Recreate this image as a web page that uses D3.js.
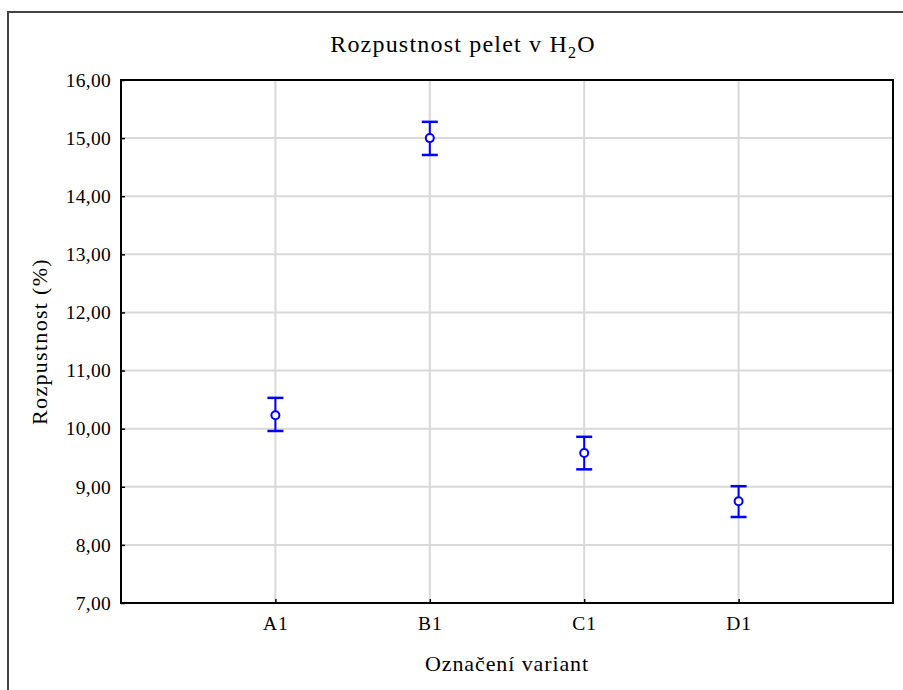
<!DOCTYPE html>
<html>
<head>
<meta charset="utf-8">
<script src="https://cdn.jsdelivr.net/npm/d3@7"></script>
<style>
  body { margin: 0; background: #fff; }
  text { font-family: "Liberation Serif", "Times New Roman", serif; fill: #000; }
</style>
</head>
<body>
<svg id="chart" width="903" height="690"></svg>
<script>
// data
const variants = ['A1', 'B1', 'C1', 'D1'];
const means = [10.23, 15.00, 9.58, 8.75];
const upper = [10.53, 15.28, 9.86, 9.01];
const lower = [9.96, 14.71, 9.30, 8.48];
const yTicks = [7, 8, 9, 10, 11, 12, 13, 14, 15, 16];

const width = 903, height = 690;
const margin = {top: 80, right: 10, bottom: 87, left: 121};

const svg = d3.select('#chart');

// outer frame
svg.append('rect')
  .attr('x', 8).attr('y', 12)
  .attr('width', 920).attr('height', 700)
  .attr('fill', 'none')
  .attr('stroke', '#444')
  .attr('stroke-width', 2);

const x = d3.scaleLinear().domain([0, 5]).range([margin.left, width - margin.right]);
const y = d3.scaleLinear().domain([7, 16]).range([height - margin.bottom, margin.top]);

const fmt = d => d3.format('.2f')(d).replace('.', ',');

// gridlines
const g = svg.append('g');
g.selectAll('.hgrid').data(yTicks.slice(1, -1)).enter().append('line')
  .attr('x1', x(0)).attr('x2', x(5))
  .attr('y1', d => y(d)).attr('y2', d => y(d))
  .attr('stroke', '#d9d9d9').attr('stroke-width', 2);
g.selectAll('.vgrid').data(variants).enter().append('line')
  .attr('x1', (d, i) => x(i + 1)).attr('x2', (d, i) => x(i + 1))
  .attr('y1', y(7)).attr('y2', y(16))
  .attr('stroke', '#d9d9d9').attr('stroke-width', 2);

// axes
const yAxis = d3.axisLeft(y).tickValues(yTicks).tickFormat(fmt).tickSizeInner(-4).tickSizeOuter(0).tickPadding(10);
svg.append('g').attr('transform', `translate(${x(0)},0)`).call(yAxis)
  .call(a => a.select('.domain').remove())
  .call(a => a.selectAll('text').attr('font-size', 19.5).attr('letter-spacing', 0.3))
  .call(a => a.selectAll('line').attr('stroke', '#000').attr('stroke-width', 1.5));

const xAxis = d3.axisBottom(x).tickValues([1, 2, 3, 4]).tickFormat(d => variants[d - 1]).tickSizeInner(-4).tickSizeOuter(0).tickPadding(13);
svg.append('g').attr('transform', `translate(0,${y(7)})`).call(xAxis)
  .call(a => a.select('.domain').remove())
  .call(a => a.selectAll('text').attr('font-size', 19.5).attr('letter-spacing', 1))
  .call(a => a.selectAll('line').attr('stroke', '#000').attr('stroke-width', 1.5));

// plot box
svg.append('rect')
  .attr('x', x(0)).attr('y', y(16))
  .attr('width', x(5) - x(0)).attr('height', y(7) - y(16))
  .attr('fill', 'none').attr('stroke', '#000').attr('stroke-width', 2);

// error bars
const pts = svg.append('g').selectAll('g').data(variants).enter().append('g');
pts.append('line')
  .attr('x1', (d, i) => x(i + 1)).attr('x2', (d, i) => x(i + 1))
  .attr('y1', (d, i) => y(upper[i])).attr('y2', (d, i) => y(lower[i]))
  .attr('stroke', '#0000ff').attr('stroke-width', 2);
[upper, lower].forEach(arr => {
  pts.append('line')
    .attr('x1', (d, i) => x(i + 1) - 8).attr('x2', (d, i) => x(i + 1) + 8)
    .attr('y1', (d, i) => y(arr[i])).attr('y2', (d, i) => y(arr[i]))
    .attr('stroke', '#0000ff').attr('stroke-width', 2.5);
});
pts.append('circle')
  .attr('cx', (d, i) => x(i + 1)).attr('cy', (d, i) => y(means[i]))
  .attr('r', 4)
  .attr('fill', '#fff').attr('stroke', '#0000ff').attr('stroke-width', 2);

// title
const title = svg.append('text')
  .attr('x', 463).attr('y', 52)
  .attr('text-anchor', 'middle')
  .attr('font-size', 24)
  .attr('letter-spacing', 1.2);
title.append('tspan').text('Rozpustnost pelet v H');
title.append('tspan').attr('font-size', 16).attr('dy', 6).text('2');
title.append('tspan').attr('dy', -6).text('O');

// axis titles
svg.append('text')
  .attr('x', (x(0) + x(5)) / 2).attr('y', 671)
  .attr('text-anchor', 'middle')
  .attr('font-size', 22)
  .attr('letter-spacing', 0.9)
  .text('Označení variant');

svg.append('text')
  .attr('transform', `translate(47,${(y(7) + y(16)) / 2}) rotate(-90)`)
  .attr('text-anchor', 'middle')
  .attr('font-size', 22)
  .attr('letter-spacing', 1.3)
  .text('Rozpustnost (%)');
</script>
</body>
</html>
